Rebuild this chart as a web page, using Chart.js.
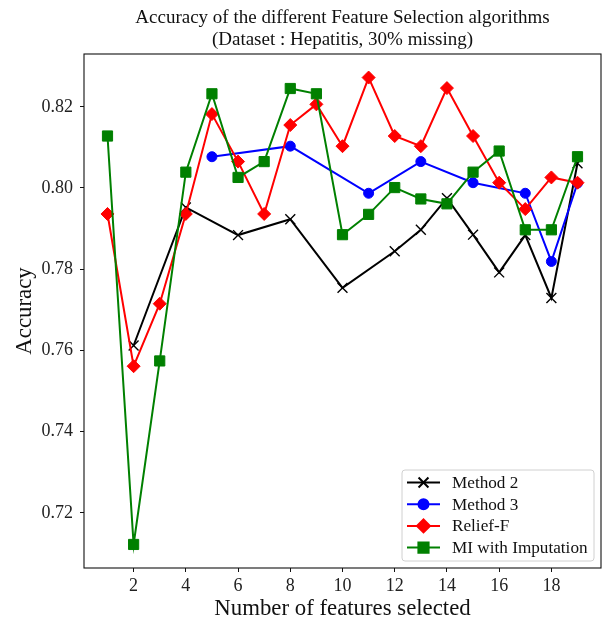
<!DOCTYPE html>
<html>
<head>
<meta charset="utf-8">
<script src="https://cdn.jsdelivr.net/npm/chart.js@4/dist/chart.umd.min.js"></script>
<style>
  html, body { margin: 0; padding: 0; background: #fff; overflow: hidden; }
  #wrap { width: 602px; height: 624px; position: relative; }
  #accChart { display: block; }
</style>
</head>
<body>
<div id="wrap"><canvas id="accChart"></canvas></div>
<script>
// number of selected features on the x axis
var xTicks = [2, 4, 6, 8, 10, 12, 14, 16, 18];
var yTicks = [0.72, 0.74, 0.76, 0.78, 0.80, 0.82];
var featureCounts = [1, 2, 3, 4, 5, 6, 7, 8, 9, 10, 11, 12, 13, 14, 15, 16, 17, 18, 19];

var method2X = [2, 4, 6, 8, 10, 12, 13, 14, 15, 16, 17, 18, 19];
var method2Y = [0.7612, 0.7952, 0.7884, 0.7923, 0.7754, 0.7844, 0.7897, 0.7975, 0.7885, 0.7792, 0.7884, 0.7729, 0.8061];

var method3X = [5, 8, 11, 13, 15, 17, 18, 19];
var method3Y = [0.8077, 0.8103, 0.7987, 0.8065, 0.8013, 0.7987, 0.7819, 0.8012];

var reliefY = [0.7936, 0.7561, 0.7715, 0.7936, 0.8182, 0.8065, 0.7936, 0.8155, 0.8206, 0.8103,
               0.8272, 0.8128, 0.8103, 0.8246, 0.8128, 0.8013, 0.7948, 0.8026, 0.8013];

var miY = [0.8128, 0.7122, 0.7574, 0.8039, 0.8232, 0.8026, 0.8065, 0.8245, 0.8232, 0.7885,
           0.7935, 0.8001, 0.7973, 0.7961, 0.8039, 0.8091, 0.7897, 0.7897, 0.8077];

var SERIF = '"Liberation Serif", "DejaVu Serif", serif';

function pairs(xs, ys) {
  return xs.map(function (x, i) { return { x: x, y: ys[i] }; });
}

// keep the plot box fixed: no extra room for edge tick labels
function noEdgePadding(s) {
  s.paddingLeft = 0; s.paddingRight = 0;
  s.paddingTop = 0; s.paddingBottom = 0;
}

// title, axis labels, box and legend drawn by hand
var decorations = {
  id: 'decorations',
  afterDraw: function (chart) {
    var ctx = chart.ctx;
    var a = chart.chartArea;
    var cx = (a.left + a.right) / 2;
    ctx.save();

    // axes box
    ctx.strokeStyle = '#111';
    ctx.lineWidth = 1.1;
    ctx.strokeRect(a.left, a.top, a.right - a.left, a.bottom - a.top);

    ctx.fillStyle = '#111';
    ctx.textAlign = 'center';
    ctx.textBaseline = 'middle';
    ctx.font = '19px ' + SERIF;
    ctx.fillText('Accuracy of the different Feature Selection algorithms', cx, 18);
    ctx.fillText('(Dataset : Hepatitis, 30% missing)', cx, 40);

    ctx.font = '22.8px ' + SERIF;
    ctx.fillText('Number of features selected', cx, 609);
    ctx.save();
    ctx.translate(25, (a.top + a.bottom) / 2);
    ctx.rotate(-Math.PI / 2);
    ctx.fillText('Accuracy', 0, 0);
    ctx.restore();

    // legend
    var bx = a.right - 199, by = a.bottom - 98, bw = 192, bh = 91;
    ctx.beginPath();
    if (ctx.roundRect) ctx.roundRect(bx, by, bw, bh, 3); else ctx.rect(bx, by, bw, bh);
    ctx.fillStyle = 'rgba(255,255,255,0.8)';
    ctx.fill();
    ctx.strokeStyle = '#d0d0d0';
    ctx.lineWidth = 1;
    ctx.stroke();

    ctx.font = '17.2px ' + SERIF;
    ctx.textAlign = 'left';
    chart.data.datasets.forEach(function (ds, i) {
      var ry = by + 12.5 + i * 21.7;
      ctx.strokeStyle = ds.borderColor;
      ctx.lineWidth = ds.borderWidth;
      ctx.beginPath();
      ctx.moveTo(bx + 5, ry);
      ctx.lineTo(bx + 38, ry);
      ctx.stroke();
      ctx.fillStyle = ds.pointBackgroundColor;
      ctx.strokeStyle = ds.pointBorderColor;
      Chart.helpers.drawPoint(ctx, {
        pointStyle: ds.pointStyle,
        radius: ds.pointRadius,
        borderWidth: ds.pointBorderWidth,
        rotation: 0
      }, bx + 21.5, ry);
      ctx.fillStyle = '#111';
      ctx.fillText(ds.label, bx + 50, ry + 1);
    });

    ctx.restore();
  }
};

new Chart(document.getElementById('accChart'), {
  type: 'line',
  data: {
    datasets: [{
      label: 'Method 2',
      data: pairs(method2X, method2Y),
      borderColor: '#000000',
      borderWidth: 2,
      pointStyle: 'crossRot',
      pointRadius: 7,
      pointBackgroundColor: '#000000',
      pointBorderColor: '#000000',
      pointBorderWidth: 1.4,
      order: 3
    }, {
      label: 'Method 3',
      data: pairs(method3X, method3Y),
      borderColor: '#0000ff',
      borderWidth: 2,
      pointStyle: 'circle',
      pointRadius: 5,
      pointBackgroundColor: '#0000ff',
      pointBorderColor: '#0000ff',
      pointBorderWidth: 1,
      order: 2
    }, {
      label: 'Relief-F',
      data: pairs(featureCounts, reliefY),
      borderColor: '#ff0000',
      borderWidth: 2,
      pointStyle: 'rectRot',
      pointRadius: 6.5,
      pointBackgroundColor: '#ff0000',
      pointBorderColor: '#ff0000',
      pointBorderWidth: 1,
      order: 1
    }, {
      label: 'MI with Imputation',
      data: pairs(featureCounts, miY),
      borderColor: '#008000',
      borderWidth: 2,
      pointStyle: 'rect',
      pointRadius: 7.2,
      pointBackgroundColor: '#008000',
      pointBorderColor: '#008000',
      pointBorderWidth: 1,
      order: 0
    }]
  },
  options: {
    responsive: true,
    maintainAspectRatio: false,
    animation: false,
    layout: { autoPadding: false, padding: { top: 54, right: 1, left: 0, bottom: 0 } },
    plugins: {
      legend: { display: false },
      tooltip: { enabled: false },
      title: { display: false }
    },
    elements: { line: { tension: 0, fill: false } },
    scales: {
      x: {
        type: 'linear',
        min: 0.1,
        max: 19.9,
        afterBuildTicks: function (s) { s.ticks = xTicks.map(function (v) { return { value: v }; }); },
        afterFit: function (s) { s.height = 56; noEdgePadding(s); },
        border: { display: false },
        grid: { drawOnChartArea: false, tickLength: 4, tickColor: '#111', tickWidth: 1 },
        ticks: {
          color: '#222',
          padding: 3,
          maxRotation: 0,
          font: { family: SERIF, size: 18 },
          callback: function (v) { return String(v); }
        }
      },
      y: {
        min: 0.7064,
        max: 0.8330,
        afterBuildTicks: function (s) { s.ticks = yTicks.map(function (v) { return { value: v }; }); },
        afterFit: function (s) { s.width = 84; noEdgePadding(s); },
        border: { display: false },
        grid: { drawOnChartArea: false, tickLength: 4, tickColor: '#111', tickWidth: 1 },
        ticks: {
          color: '#222',
          padding: 7,
          font: { family: SERIF, size: 18 },
          callback: function (v) { return v.toFixed(2); }
        }
      }
    }
  },
  plugins: [decorations]
});
</script>
</body>
</html>
